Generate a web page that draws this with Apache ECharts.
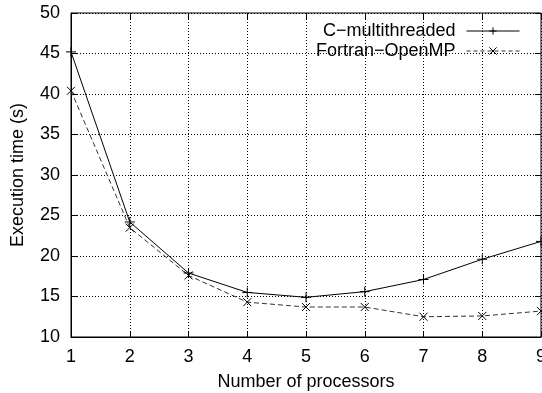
<!DOCTYPE html>
<html>
<head>
<meta charset="utf-8">
<script src="https://cdn.jsdelivr.net/npm/echarts@6/dist/echarts.min.js"></script>
<style>
  html, body { margin: 0; padding: 0; background: #fff; }
  #chart { width: 542px; height: 393px; }
</style>
</head>
<body>
<div id="chart"></div>
<script>
// processors on the x axis
const processors = [1, 2, 3, 4, 5, 6, 7, 8, 9];
// execution times (s)
const cMultithreaded = [45.2, 24.2, 17.9, 15.5, 14.9, 15.6, 17.1, 19.6, 21.8];
const fortranOpenMP = [40.4, 23.5, 17.6, 14.3, 13.7, 13.7, 12.5, 12.6, 13.2];

const FONT = "'Liberation Sans', Arial, sans-serif";
const plusIcon = "path://M0,5L10,5M5,0L5,10";
const crossIcon = "path://M0,0L10,10M10,0L0,10";

const chart = echarts.init(document.getElementById("chart"));

const toPairs = (vals) => processors.map((p, i) => [p, vals[i]]);

const tick = { show: true, inside: true, length: 6, lineStyle: { color: "#000", width: 1 } };
const dotted = { show: true, lineStyle: { color: "#000", width: 1, type: [1, 2] } };

chart.setOption({
  animation: false,
  grid: {
    left: 71, right: 1, top: 13, bottom: 56,
    outerBoundsMode: "none",
    show: true, borderColor: "#000", borderWidth: 1, backgroundColor: "transparent"
  },
  legend: {
    orient: "vertical",
    right: 17,
    top: 17,
    align: "right",
    itemWidth: 53,
    itemHeight: 9,
    itemGap: 2,
    textStyle: { fontFamily: FONT, fontSize: 18, color: "#000", padding: [0, 6, 0, 0] },
    data: [
      {
        name: "C\u2212multithreaded",
        lineStyle: { width: 1, color: "#000" },
        itemStyle: { color: "none", borderColor: "#000", borderWidth: 1 }
      },
      {
        name: "Fortran\u2212OpenMP",
        lineStyle: { width: 1, type: [4, 3], color: "#333" },
        itemStyle: { color: "none", borderColor: "#000", borderWidth: 1 }
      }
    ]
  },
  xAxis: [
    {
      type: "value", min: 1, max: 9, interval: 1,
      name: "Number of processors", nameLocation: "middle", nameGap: 36,
      nameTextStyle: { fontFamily: FONT, fontSize: 18, color: "#000" },
      axisLine: { show: true, lineStyle: { color: "#000", width: 1 } },
      axisTick: tick,
      axisLabel: { fontFamily: FONT, fontSize: 18, color: "#000", margin: 11, showMaxLabel: true },
      splitLine: dotted
    },
    {
      type: "value", min: 1, max: 9, interval: 1, position: "top",
      axisLine: { show: false }, axisTick: tick,
      axisLabel: { show: false }, splitLine: { show: false }
    }
  ],
  yAxis: [
    {
      type: "value", min: 10, max: 50, interval: 5,
      name: "Execution time (s)", nameLocation: "middle", nameGap: 44,
      nameTextStyle: { fontFamily: FONT, fontSize: 18, color: "#000" },
      axisLine: { show: true, lineStyle: { color: "#000", width: 1 } },
      axisTick: tick,
      axisLabel: { fontFamily: FONT, fontSize: 18, color: "#000", margin: 11 },
      splitLine: dotted
    },
    {
      type: "value", min: 10, max: 50, interval: 5, position: "right",
      axisLine: { show: false }, axisTick: tick,
      axisLabel: { show: false }, splitLine: { show: false }
    }
  ],
  series: [
    {
      name: "C\u2212multithreaded",
      type: "line",
      data: toPairs(cMultithreaded),
      symbol: plusIcon,
      symbolSize: 10,
      lineStyle: { color: "#000", width: 1 },
      itemStyle: { color: "none", borderColor: "#000", borderWidth: 1 }
    },
    {
      name: "Fortran\u2212OpenMP",
      type: "line",
      data: toPairs(fortranOpenMP),
      symbol: crossIcon,
      symbolSize: 8,
      lineStyle: { color: "#333", width: 1, type: [5, 3] },
      itemStyle: { color: "none", borderColor: "#000", borderWidth: 1 }
    }
  ]
});
</script>
</body>
</html>
